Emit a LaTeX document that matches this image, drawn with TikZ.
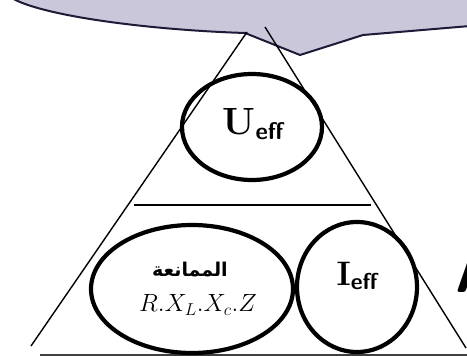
\documentclass[tikz,border=0pt]{standalone}
\usepackage{fontspec}
\usetikzlibrary{shapes.geometric}
\newfontfamily\arabicfont[Script=Arabic]{DejaVu Sans}
\TeXXeTstate=1
\definecolor{bubblefill}{HTML}{C9C7D9}
\definecolor{bubbleline}{HTML}{1C1C38}
\tikzset{
  ring/.style={draw=black, line width=4.2pt, ellipse, inner sep=0pt},
  tri/.style={draw=black, line width=1.4pt},
}
\begin{document}
\begin{tikzpicture}[x=1pt,y=-1pt]
\useasboundingbox (0,0) rectangle (467,356);
\clip (0,0) rectangle (467,356);
\fill[white] (0,0) rectangle (467,356);
% speech bubble
\fill[bubblefill] (10,-3) .. controls (40,16) and (150,30) .. (245,33) -- (300,55) -- (363,35) -- (470,26) -- (470,-3) -- cycle;
\draw[bubbleline, line width=2pt, line join=round] (10,-3) .. controls (40,16) and (150,30) .. (245,33) -- (300,55) -- (363,35) -- (470,26);
% triangle
\draw[tri] (247,32) -- (31,346);
\draw[tri] (265,27) -- (466,348);
\draw[black, line width=2pt] (134,205) -- (371,205);
\draw[black!75, line width=2.5pt] (40,355) -- (470,355);
% ellipses
\node[ring, minimum width=140pt, minimum height=106pt] (ueff) at (252,127) {};
\node[ring, minimum width=202pt, minimum height=128pt] (imp) at (192,289) {};
\node[ring, minimum width=120pt, minimum height=130pt] (ieff) at (357,287) {};
% texts
\node (ut) at (253,124) {\fontsize{38}{42}\selectfont\bfseries U\raisebox{-0.3ex}{\fontsize{24}{28}\selectfont\sffamily\bfseries eff}};
\node (it) at (357,276) {\fontsize{34}{38}\selectfont\bfseries I\raisebox{-0.3ex}{\fontsize{23}{27}\selectfont\sffamily\bfseries eff}};
\node (ar) at (190,270) {\arabicfont\bfseries\fontsize{19}{23}\selectfont\beginR الممانعة\endR};
\node (rx) at (198,305) {\fontsize{25}{29}\selectfont$R.X_L.X_c.Z$};
\node[anchor=base west, inner sep=0pt] (aa) at (455,292) {\fontsize{62}{66}\selectfont\sffamily\bfseries A};
\end{tikzpicture}
\end{document}
